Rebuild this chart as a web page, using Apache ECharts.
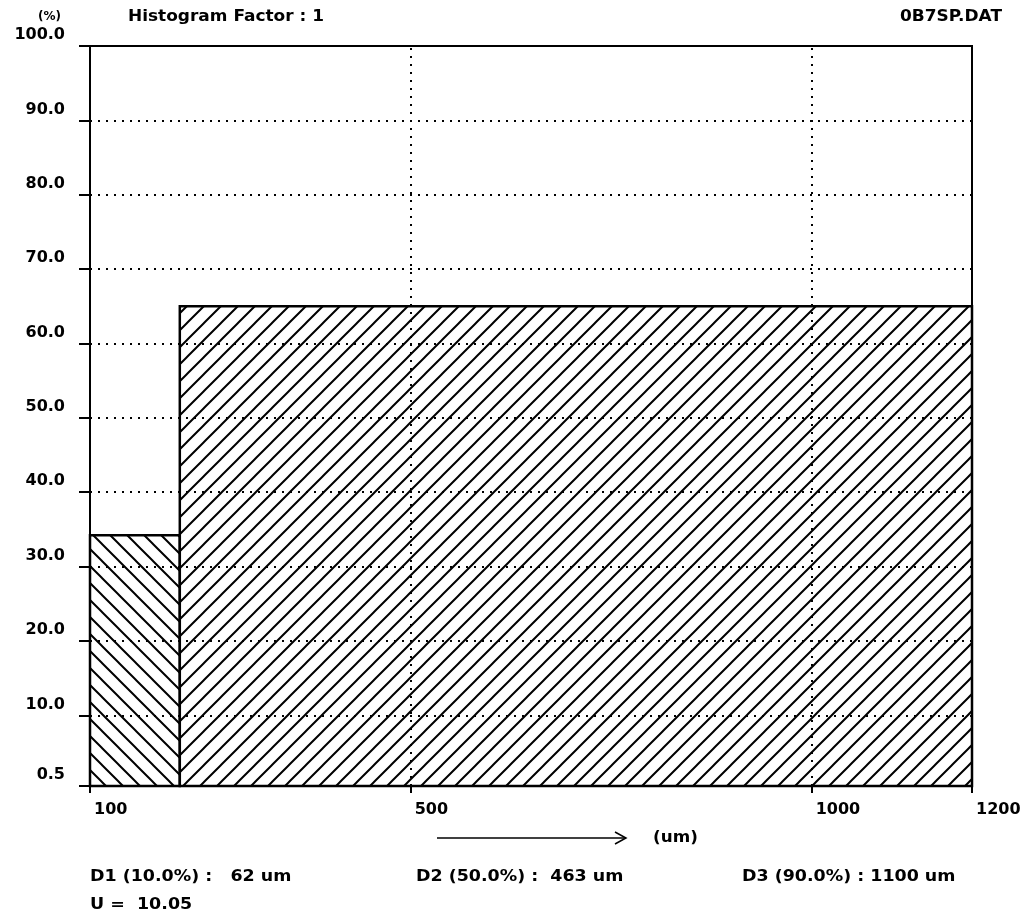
<!DOCTYPE html>
<html>
<head>
<meta charset="utf-8">
<script src="https://cdn.jsdelivr.net/npm/echarts@6/dist/echarts.min.js"></script>
<style>
html,body{margin:0;padding:0;background:#fff;}
#chart{width:1029px;height:919px;}
</style>
</head>
<body>
<div id="chart"></div>
<script>
// ---- data ----
var binEdges = [100, 212, 1200];          // um
var binValues = [34.2, 65.0];             // %
var yTickValues = [0.5, 10, 20, 30, 40, 50, 60, 70, 80, 90, 100];
var xTickValues = [100, 500, 1000, 1200];
var gridYValues = [10, 20, 30, 40, 50, 60, 70, 80, 90];
var gridXValues = [500, 1000];
var yMin = 0.5, yMax = 100, xMin = 100, xMax = 1200;
var hatchDirs = ['back', 'forward'];

function makeHatch(dir) {
  var s = 17;
  var c = document.createElement('canvas');
  c.width = s; c.height = s;
  var g = c.getContext('2d');
  g.fillStyle = '#fff'; g.fillRect(0, 0, s, s);
  g.strokeStyle = '#000'; g.lineWidth = 2;
  g.beginPath();
  if (dir === 'forward') {
    g.moveTo(-2, s + 2); g.lineTo(s + 2, -2);
    g.moveTo(-2, 2); g.lineTo(2, -2);
    g.moveTo(s - 2, s + 2); g.lineTo(s + 2, s - 2);
  } else {
    g.moveTo(-2, -2); g.lineTo(s + 2, s + 2);
    g.moveTo(-2, s - 2); g.lineTo(2, s + 2);
    g.moveTo(s - 2, -2); g.lineTo(s + 2, 2);
  }
  g.stroke();
  return c;
}
var patterns = hatchDirs.map(function (d) { return { image: makeHatch(d), repeat: 'repeat' }; });

var barData = binValues.map(function (v, i) { return [binEdges[i], binEdges[i + 1], v]; });

var FONT = 'DejaVu Sans';
var chart = echarts.init(document.getElementById('chart'), null, { renderer: 'canvas' });

function txt(str, x, y, size, align, sx) {
  return {
    type: 'text', x: x, y: y, scaleX: sx || 1.08,
    style: { text: str, fontFamily: FONT, fontSize: size, fontWeight: 'bold', fill: '#000',
      textAlign: align || 'left', textVerticalAlign: 'middle' },
    silent: true
  };
}

chart.setOption({
  animation: false,
  backgroundColor: '#fff',
  grid: { left: 90, right: 57, top: 46, bottom: 133, show: true,
    borderColor: '#000', borderWidth: 2, backgroundColor: 'transparent' },
  xAxis: {
    type: 'value', min: xMin, max: xMax,
    axisLine: { show: true, onZero: false, lineStyle: { color: '#000', width: 2 } },
    axisTick: { show: true, customValues: xTickValues, length: 7, lineStyle: { color: '#000', width: 2 } },
    axisLabel: { customValues: xTickValues, color: '#000', fontFamily: FONT, fontSize: 16, fontWeight: 'bold',
      align: 'left', margin: 16, padding: [0, 0, 0, 4], showMinLabel: true, showMaxLabel: true,
      formatter: function (v) { return String(v); } },
    splitLine: { show: false }
  },
  yAxis: {
    type: 'value', min: yMin, max: yMax,
    axisLine: { show: true, onZero: false, lineStyle: { color: '#000', width: 2 } },
    axisTick: { show: true, customValues: yTickValues, length: 11, lineStyle: { color: '#000', width: 2 } },
    axisLabel: { customValues: yTickValues, color: '#000', fontFamily: FONT, fontSize: 16, fontWeight: 'bold',
      margin: 25, verticalAlign: 'bottom', lineHeight: 16, padding: [0, 0, 3, 0],
      formatter: function (v) { return v.toFixed(1); }, showMinLabel: true, showMaxLabel: true },
    splitLine: { show: false }
  },
  series: [
    {
      type: 'custom', z: 2,
      data: barData,
      renderItem: function (params, api) {
        var i = params.dataIndex;
        var p0 = api.coord([api.value(0), api.value(2)]);
        var p1 = api.coord([api.value(1), yMin]);
        return {
          type: 'rect',
          shape: { x: p0[0], y: p0[1], width: p1[0] - p0[0], height: p1[1] - p0[1] },
          style: { fill: patterns[i], stroke: '#000', lineWidth: 2.5 }
        };
      }
    },
    {
      type: 'line', z: 10, data: [], silent: true,
      markLine: {
        silent: true, symbol: ['none', 'none'], animation: false,
        label: { show: false },
        lineStyle: { color: '#000', width: 2, type: [2, 6] },
        emphasis: { disabled: true },
        data: gridYValues.map(function (v) { return { yAxis: v }; })
          .concat(gridXValues.map(function (v) { return { xAxis: v }; }))
      }
    }
  ],
  graphic: [
    txt('(%)', 38, 17, 12, 'left', 1.0),
    txt('Histogram Factor : 1', 128, 17, 16, 'left', 1.06),
    txt('0B7SP.DAT', 1002, 17, 16, 'right', 1.06),
    { type: 'line', shape: { x1: 437, y1: 838, x2: 626, y2: 838 }, style: { stroke: '#000', lineWidth: 1.5 }, silent: true },
    { type: 'polyline', shape: { points: [[615, 832], [626, 838], [615, 844]] }, style: { stroke: '#000', lineWidth: 1.5, fill: null }, silent: true },
    txt('(um)', 653, 838, 16, 'left', 1.05),
    txt('D1 (10.0%) :   62 um', 90, 877, 16, 'left', 1.09),
    txt('U =  10.05', 90, 905, 16, 'left', 1.09),
    txt('D2 (50.0%) :  463 um', 416, 877, 16, 'left', 1.09),
    txt('D3 (90.0%) : 1100 um', 742, 877, 16, 'left', 1.09)
  ]
});
</script>
</body>
</html>
